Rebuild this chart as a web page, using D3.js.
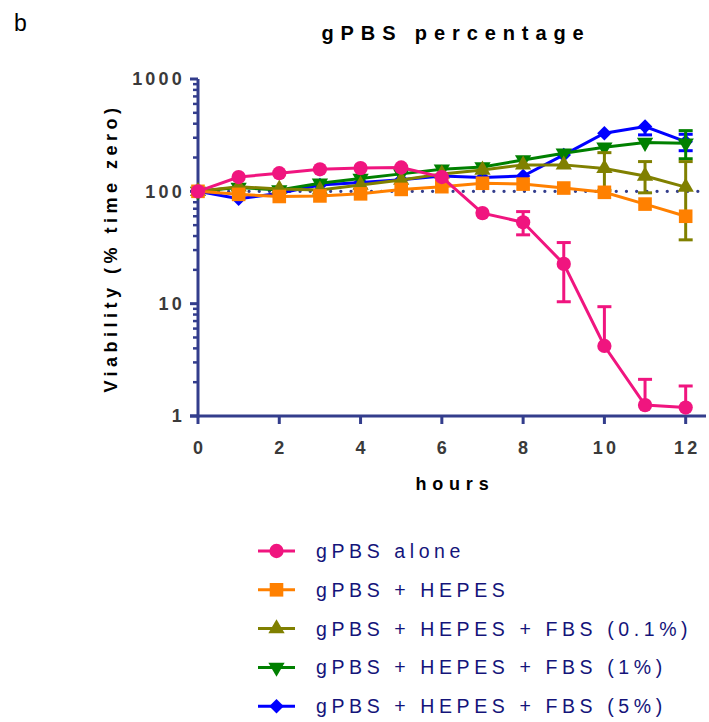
<!DOCTYPE html>
<html>
<head>
<meta charset="utf-8">
<script src="https://cdn.jsdelivr.net/npm/d3@7"></script>
<style>
  body { margin: 0; background: #fff; }
  svg { display: block; font-family: "Liberation Sans", Arial, sans-serif; }
</style>
</head>
<body>
<svg width="709" height="722"></svg>
<script>
// values (percent of time zero)
const hours = [0, 1, 2, 3, 4, 5, 6, 7, 8, 9, 10, 11, 12];
const xTicks = [0, 2, 4, 6, 8, 10, 12];
const yTicks = [1, 10, 100, 1000];

const aloneVals = [100, 134, 145, 157, 161, 163, 134, 64, 53, 22.6, 4.2, 1.25, 1.19];
const aloneHi   = [null, null, null, null, null, null, null, null, 66, 35, 9.4, 2.12, 1.85];
const aloneLo   = [null, null, null, null, null, null, null, null, 41, 10.4, null, null, null];

const hepesVals = [100, 94, 90, 91, 95, 104, 110, 118, 116, 107, 98, 77, 60];

const fbs01Vals = [100, 110, 105, 103, 114, 126, 143, 155, 172, 172, 160, 137, 109];
const fbs01Hi   = [null, null, null, null, null, null, null, null, null, null, 221, 184, 184];
const fbs01Lo   = [null, null, null, null, null, null, null, null, null, null, 102, 97, 37];

const fbs1Vals  = [100, 108, 103, 118, 130, 143, 157, 165, 190, 218, 247, 272, 268];
const fbs1Hi    = [null, null, null, null, null, null, null, null, null, null, null, null, 347];
const fbs1Lo    = [null, null, null, null, null, null, null, null, null, null, null, null, 195];

const fbs5Vals  = [100, 86, 96, 114, 120, 127, 137, 133, 137, 211, 329, 377, 277];
const fbs5Hi    = [null, null, null, null, null, null, null, null, null, null, null, null, 322];
const fbs5Lo    = [null, null, null, null, null, null, null, null, null, null, null, 318, 230];

const series = [
  { name: "gPBS alone", vals: aloneVals, hi: aloneHi, lo: aloneLo, color: "#f0157f", shape: "circle" },
  { name: "gPBS + HEPES", vals: hepesVals, hi: null, lo: null, color: "#ff8000", shape: "square" },
  { name: "gPBS + HEPES + FBS (0.1%)", vals: fbs01Vals, hi: fbs01Hi, lo: fbs01Lo, color: "#808000", shape: "up" },
  { name: "gPBS + HEPES + FBS (1%)", vals: fbs1Vals, hi: fbs1Hi, lo: fbs1Lo, color: "#008000", shape: "down" },
  { name: "gPBS + HEPES + FBS (5%)", vals: fbs5Vals, hi: fbs5Hi, lo: fbs5Lo, color: "#0000ff", shape: "diamond" }
];

const axisColor = "#333d8c";
const svg = d3.select("svg");

const x = d3.scaleLinear().domain([0, 12.5]).range([198, 706]);
const y = d3.scaleLog().domain([1, 1000]).range([416, 79]);

function marker(sel, shape, color) {
  let sym, size, rot = 0;
  if (shape == "circle") { sym = d3.symbolCircle; size = 160; }
  else if (shape == "square") { sym = d3.symbolSquare; size = 185; }
  else if (shape == "up") { sym = d3.symbolTriangle; size = 115; }
  else if (shape == "down") { sym = d3.symbolTriangle; size = 115; rot = 180; }
  else { sym = d3.symbolSquare; size = 105; rot = 45; }
  sel.append("path")
      .attr("d", d3.symbol().type(sym).size(size)())
      .attr("fill", color)
      .attr("transform", "rotate(" + rot + ")");
}

// title and panel letter
svg.append("text").attr("x", 14).attr("y", 31)
    .style("font-size", "23px").text("b");
svg.append("text").attr("x", 456).attr("y", 40)
    .attr("text-anchor", "middle")
    .style("font-size", "20px").style("font-weight", "bold")
    .style("letter-spacing", "6.9px")
    .text("gPBS percentage");

// dotted reference line at 100%
svg.append("line")
    .attr("x1", x(0)).attr("x2", x(12.5))
    .attr("y1", y(100)).attr("y2", y(100))
    .attr("stroke", axisColor).attr("stroke-width", 3.2)
    .attr("stroke-linecap", "round")
    .attr("stroke-dasharray", "0.1 10.1");

// axes
const yMinor = [];
[1, 10, 100].forEach(function(d) {
  for (let k = 2; k <= 9; k++) yMinor.push(d * k);
});

const gy = svg.append("g").attr("transform", "translate(198,0)");
gy.append("line").attr("y1", y(1000)).attr("y2", y(1) + 1.5)
    .attr("stroke", axisColor).attr("stroke-width", 3);
gy.selectAll(".major").data(yTicks).enter().append("line")
    .attr("x1", -8).attr("x2", 0)
    .attr("y1", d => y(d)).attr("y2", d => y(d))
    .attr("stroke", axisColor).attr("stroke-width", 3);
gy.selectAll(".minor").data(yMinor).enter().append("line")
    .attr("x1", -5).attr("x2", 0)
    .attr("y1", d => y(d)).attr("y2", d => y(d))
    .attr("stroke", axisColor).attr("stroke-width", 2.5);
gy.selectAll(".lab").data(yTicks).enter().append("text")
    .attr("x", -13).attr("y", d => y(d)).attr("dy", "0.36em")
    .attr("text-anchor", "end")
    .attr("fill", "#3a3a3a")
    .style("font-size", "18px").style("font-weight", "bold")
    .style("letter-spacing", "3.2px")
    .text(d => d);

const gx = svg.append("g").attr("transform", "translate(0,416)");
gx.append("line").attr("x1", 190).attr("x2", x(12.5))
    .attr("stroke", axisColor).attr("stroke-width", 3);
gx.selectAll(".tick").data(xTicks).enter().append("line")
    .attr("x1", d => x(d)).attr("x2", d => x(d))
    .attr("y1", 0).attr("y2", 8)
    .attr("stroke", axisColor).attr("stroke-width", 3);
gx.selectAll(".lab").data(xTicks).enter().append("text")
    .attr("x", d => x(d) + 1.6).attr("y", 38)
    .attr("text-anchor", "middle")
    .attr("fill", "#3a3a3a")
    .style("font-size", "18px").style("font-weight", "bold")
    .style("letter-spacing", "3.2px")
    .text(d => d);

svg.append("text").attr("x", 455).attr("y", 490)
    .attr("text-anchor", "middle")
    .style("font-size", "18px").style("font-weight", "bold")
    .style("letter-spacing", "5.8px")
    .text("hours");

svg.append("text")
    .attr("transform", "translate(117,248) rotate(-90)")
    .attr("text-anchor", "middle")
    .style("font-size", "18px").style("font-weight", "bold")
    .style("letter-spacing", "4.5px")
    .text("Viability (% time zero)");

// series, drawn from last to first so the first sits on top
const line = d3.line().x(d => x(d[0])).y(d => y(d[1]));
series.slice().reverse().forEach(function(s) {
  const g = svg.append("g");
  const pts = hours.map((h, i) => [h, s.vals[i]]);
  if (s.hi) {
    hours.forEach(function(h, i) {
      if (s.hi[i] == null && s.lo[i] == null) return;
      const top = s.hi[i] != null ? s.hi[i] : s.vals[i];
      const bot = s.lo[i] != null ? s.lo[i] : s.vals[i];
      g.append("line").attr("x1", x(h)).attr("x2", x(h))
          .attr("y1", y(top)).attr("y2", y(bot))
          .attr("stroke", s.color).attr("stroke-width", 3);
      [s.hi[i], s.lo[i]].forEach(function(v) {
        if (v == null) return;
        g.append("line").attr("x1", x(h) - 7).attr("x2", x(h) + 7)
            .attr("y1", y(v)).attr("y2", y(v))
            .attr("stroke", s.color).attr("stroke-width", 3);
      });
    });
  }
  g.append("path").datum(pts).attr("d", line)
      .attr("fill", "none").attr("stroke", s.color).attr("stroke-width", 3);
  pts.forEach(function(p) {
    const m = g.append("g").attr("transform", "translate(" + x(p[0]) + "," + y(p[1]) + ")");
    marker(m, s.shape, s.color);
  });
});

// legend
const leg = svg.append("g");
series.forEach(function(s, i) {
  const ly = 551 + i * 38.8;
  leg.append("line").attr("x1", 258).attr("x2", 295)
      .attr("y1", ly).attr("y2", ly)
      .attr("stroke", s.color).attr("stroke-width", 3);
  const m = leg.append("g").attr("transform", "translate(276.5," + ly + ")");
  marker(m, s.shape, s.color);
  leg.append("text").attr("x", 316).attr("y", ly).attr("dy", "0.36em")
      .attr("fill", "#14147a")
      .style("font-size", "19.5px")
      .style("letter-spacing", "4.6px")
      .text(s.name);
});
</script>
</body>
</html>
